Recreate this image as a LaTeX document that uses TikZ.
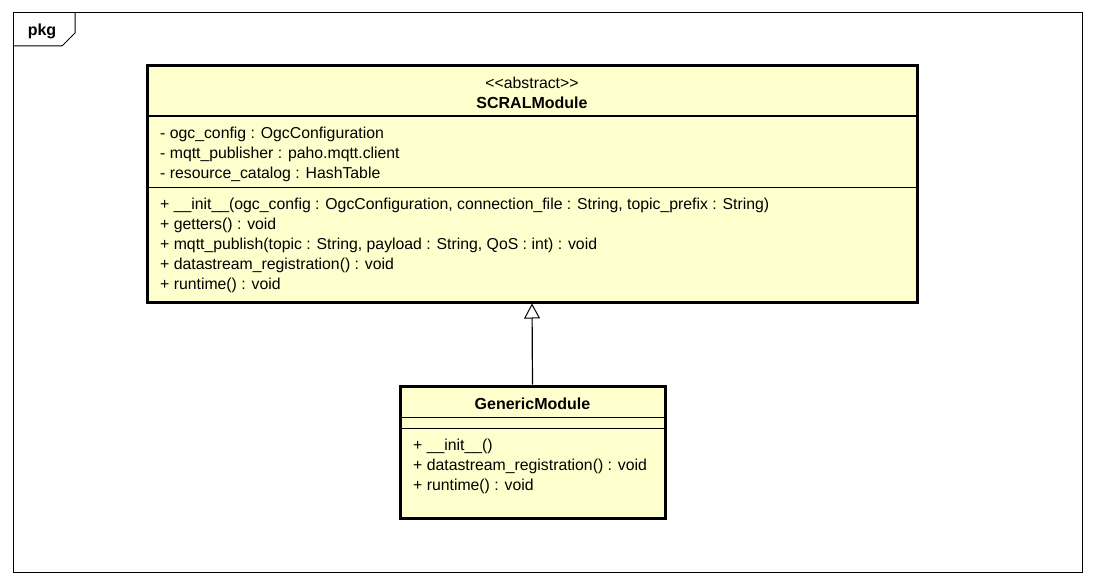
\documentclass[tikz,border=0pt]{standalone}
\usepackage{fontspec}
\setmainfont[Ligatures=TeXOff]{Liberation Sans}
\usetikzlibrary{arrows.meta}
\definecolor{classfill}{HTML}{FFFFCE}
\begin{document}
\begin{tikzpicture}[x=1pt,y=-1pt,
  classbox/.style={draw=black,line width=3pt,fill=classfill,rectangle,inner sep=0pt},
  divider/.style={line width=1pt},
  txt/.style={anchor=west,inner sep=0pt,font=\fontsize{15.8}{17}\selectfont},
  ttl/.style={inner sep=0pt,font=\fontsize{16}{18}\selectfont\bfseries},
  frameline/.style={line width=1pt},
  gen/.style={line width=1.2pt,-{Triangle[open,width=16pt,length=15pt,line width=1pt]}}]
\useasboundingbox (0,0) rectangle (1096,586);
% package frame
\draw[frameline] (13,13) rectangle (1082,572);
\draw[frameline] (13,46) -- (62,46) -- (75,33) -- (75,13);
\node[inner sep=0pt,font=\fontsize{16}{18}\selectfont\bfseries] (pkg) at (42,31) {pkg};
% SCRALModule
\node[classbox,minimum width=770pt,minimum height=236pt] (scral) at (532,184) {};
\draw[divider] (147,116) -- (917,116);
\draw[divider] (147,187) -- (917,187);
\node[inner sep=0pt,font=\fontsize{15.8}{17}\selectfont] (st) at (532,83) {<<abstract>>};
\node[ttl] (sn) at (532,103) {SCRALModule};
\node[txt] (a1) at (160,134) {- ogc\_config : OgcConfiguration};
\node[txt] (a2) at (160,154) {- mqtt\_publisher : paho.mqtt.client};
\node[txt] (a3) at (160,174) {- resource\_catalog : HashTable};
\node[txt] (m1) at (160,205) {+ \_\_init\_\_(ogc\_config : OgcConfiguration, connection\_file : String, topic\_prefix : String)};
\node[txt] (m2) at (160,225) {+ getters() : void};
\node[txt] (m3) at (160,245) {+ mqtt\_publish(topic : String, payload : String, QoS : int) : void};
\node[txt] (m4) at (160,265) {+ datastream\_registration() : void};
\node[txt] (m5) at (160,285) {+ runtime() : void};
% GenericModule
\node[classbox,minimum width=265pt,minimum height=132pt] (generic) at (532.5,452) {};
\draw[divider] (400,417) -- (665,417);
\draw[divider] (400,428) -- (665,428);
\node[ttl] (gn) at (532.5,404) {GenericModule};
\node[txt] (g1) at (413,446) {+ \_\_init\_\_()};
\node[txt] (g2) at (413,466) {+ datastream\_registration() : void};
\node[txt] (g3) at (413,486) {+ runtime() : void};
% generalization
\draw[gen] (generic.north) -- (scral.south);
\end{tikzpicture}
\end{document}
